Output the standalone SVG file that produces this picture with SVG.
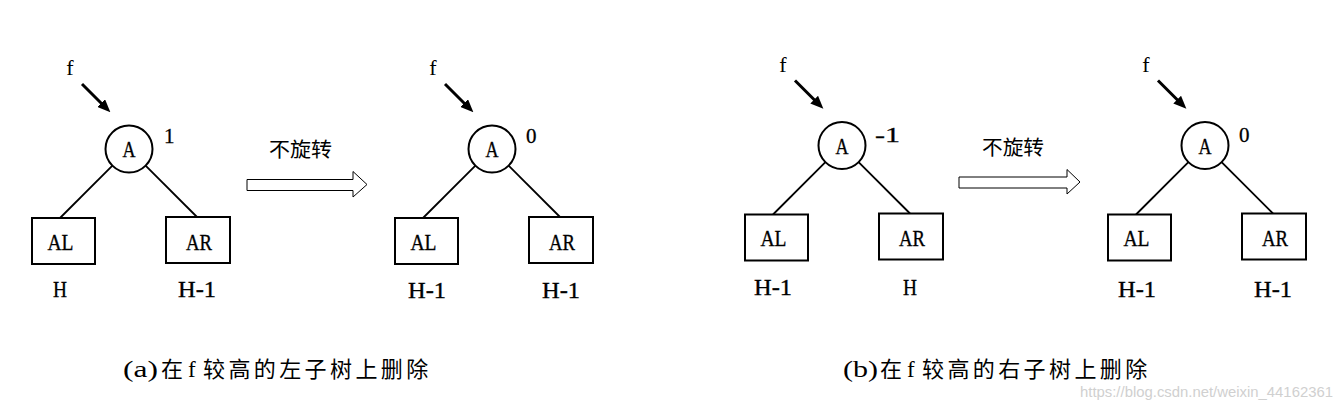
<svg xmlns="http://www.w3.org/2000/svg" width="1342" height="415" viewBox="0 0 1342 415">
<style>
.bg{fill:#ffffff}
.node{fill:#ffffff;stroke:#000000;stroke-width:2}
.edge{stroke:#000000;stroke-width:1.8;fill:none}
.ptr{stroke:#000000;stroke-width:3;fill:none}
.big{fill:#ffffff;stroke:#000000;stroke-width:1}
.t{font-family:"Liberation Serif","Noto Sans CJK SC",serif;font-size:24px;fill:#000000;stroke:#000000;stroke-width:0.35}
.c{text-anchor:middle}
.f{font-family:"Liberation Serif",serif;font-size:22px;fill:#000000}
.bf{font-family:"Liberation Serif",serif;font-size:21px;fill:#000000;stroke:#000000;stroke-width:0.3}
.zh{font-family:"Noto Sans CJK SC",sans-serif;font-size:20px;fill:#000000}
.cap{font-family:"Liberation Serif",serif;font-size:23px;fill:#000000}
.capzh{font-family:"Noto Sans CJK SC",sans-serif;font-size:22px;fill:#000000}
.wm{font-family:"Liberation Sans",Arial,sans-serif;font-size:15px;fill:#d0d0d0}
</style>
<defs>
<marker id="ah" markerUnits="userSpaceOnUse" markerWidth="13" markerHeight="11" refX="4" refY="5.5" orient="auto">
<path d="M0,0 L13,5.5 L0,11 z" fill="#000000"/>
</marker>
</defs>
<rect class="bg" x="0" y="0" width="1342" height="415"/>

<g id="connectors">
<g transform="translate(0,0)">
<line class="ptr" x1="82" y1="84" x2="104" y2="106" marker-end="url(#ah)"/>
<line class="edge" x1="112.4" y1="165.6" x2="60" y2="218"/>
<line class="edge" x1="145.6" y1="165.6" x2="197" y2="217"/>
</g>
<g transform="translate(363,0)">
<line class="ptr" x1="82" y1="84" x2="104" y2="106" marker-end="url(#ah)"/>
<line class="edge" x1="112.4" y1="165.6" x2="60" y2="218"/>
<line class="edge" x1="145.6" y1="165.6" x2="197" y2="217"/>
</g>
<g transform="translate(713,-3.5)">
<line class="ptr" x1="82" y1="84" x2="104" y2="106" marker-end="url(#ah)"/>
<line class="edge" x1="112.4" y1="165.6" x2="60" y2="218"/>
<line class="edge" x1="145.6" y1="165.6" x2="197" y2="217"/>
</g>
<g transform="translate(1076,-3.5)">
<line class="ptr" x1="82" y1="84" x2="104" y2="106" marker-end="url(#ah)"/>
<line class="edge" x1="112.4" y1="165.6" x2="60" y2="218"/>
<line class="edge" x1="145.6" y1="165.6" x2="197" y2="217"/>
</g>
<polygon id="arrow-a" class="big" points="247,179.5 353,179.5 353,171.5 367,184.5 353,197 353,190.5 247,190.5"/>
<polygon id="arrow-b" class="big" points="959,177 1067,177 1067,169.5 1080,182 1067,194 1067,188 959,188"/>
</g>

<g id="tree-a1">
<g id="a1-A"><circle class="node" cx="129" cy="149" r="23.5"/><text class="t c" x="129" y="157" textLength="13" lengthAdjust="spacingAndGlyphs">A</text></g>
<g id="a1-AL"><rect class="node" x="32" y="218" width="63" height="46"/><text class="t c" x="60.5" y="249.5" textLength="26" lengthAdjust="spacingAndGlyphs">AL</text></g>
<g id="a1-AR"><rect class="node" x="166" y="217" width="64" height="46"/><text class="t c" x="199" y="249.5" textLength="26" lengthAdjust="spacingAndGlyphs">AR</text></g>
<text class="f c" x="70" y="75">f</text>
<text class="bf" x="164" y="143">1</text>
<text class="t c" x="60" y="297" textLength="14" lengthAdjust="spacingAndGlyphs">H</text>
<text class="t c" x="197" y="297" textLength="38" lengthAdjust="spacingAndGlyphs">H-1</text>
</g>

<g id="tree-a2" transform="translate(363,0)">
<g id="a2-A"><circle class="node" cx="129" cy="149" r="23.5"/><text class="t c" x="129" y="157" textLength="13" lengthAdjust="spacingAndGlyphs">A</text></g>
<g id="a2-AL"><rect class="node" x="32" y="218" width="63" height="46"/><text class="t c" x="60.5" y="249.5" textLength="26" lengthAdjust="spacingAndGlyphs">AL</text></g>
<g id="a2-AR"><rect class="node" x="166" y="217" width="64" height="46"/><text class="t c" x="199" y="249.5" textLength="26" lengthAdjust="spacingAndGlyphs">AR</text></g>
<text class="f c" x="70" y="75">f</text>
<text class="bf" x="163" y="143">0</text>
<text class="t c" x="64" y="298" textLength="38" lengthAdjust="spacingAndGlyphs">H-1</text>
<text class="t c" x="198" y="298" textLength="38" lengthAdjust="spacingAndGlyphs">H-1</text>
</g>

<g id="tree-b1" transform="translate(713,-3.5)">
<g id="b1-A"><circle class="node" cx="129" cy="149" r="23.5"/><text class="t c" x="129" y="157" textLength="13" lengthAdjust="spacingAndGlyphs">A</text></g>
<g id="b1-AL"><rect class="node" x="32" y="218" width="63" height="46"/><text class="t c" x="60.5" y="249.5" textLength="26" lengthAdjust="spacingAndGlyphs">AL</text></g>
<g id="b1-AR"><rect class="node" x="166" y="217" width="64" height="46"/><text class="t c" x="199" y="249.5" textLength="26" lengthAdjust="spacingAndGlyphs">AR</text></g>
<text class="f c" x="70" y="75">f</text>
<text class="bf" x="162" y="145" textLength="25" lengthAdjust="spacingAndGlyphs">-1</text>
<text class="t c" x="60" y="298.5" textLength="38" lengthAdjust="spacingAndGlyphs">H-1</text>
<text class="t c" x="197" y="298.5" textLength="14" lengthAdjust="spacingAndGlyphs">H</text>
</g>

<g id="tree-b2" transform="translate(1076,-3.5)">
<g id="b2-A"><circle class="node" cx="129" cy="149" r="23.5"/><text class="t c" x="129" y="157" textLength="13" lengthAdjust="spacingAndGlyphs">A</text></g>
<g id="b2-AL"><rect class="node" x="32" y="218" width="63" height="46"/><text class="t c" x="60.5" y="249.5" textLength="26" lengthAdjust="spacingAndGlyphs">AL</text></g>
<g id="b2-AR"><rect class="node" x="166" y="217" width="64" height="46"/><text class="t c" x="199" y="249.5" textLength="26" lengthAdjust="spacingAndGlyphs">AR</text></g>
<text class="f c" x="70" y="75">f</text>
<text class="bf" x="163" y="145">0</text>
<text class="t c" x="61" y="300" textLength="38" lengthAdjust="spacingAndGlyphs">H-1</text>
<text class="t c" x="197" y="300" textLength="38" lengthAdjust="spacingAndGlyphs">H-1</text>
</g>

<text class="zh" x="269" y="157" textLength="63" lengthAdjust="spacingAndGlyphs">不旋转</text>
<text class="zh" x="982" y="155" textLength="62" lengthAdjust="spacingAndGlyphs">不旋转</text>

<g id="caption-a">
<text class="cap" x="123" y="377" textLength="35" lengthAdjust="spacingAndGlyphs">(a)</text>
<text class="capzh" x="161" y="377">在</text>
<text class="cap" x="188" y="377">f</text>
<text class="capzh" x="203" y="377" style="letter-spacing:3.4px">较高的左子树上删除</text>
</g>
<g id="caption-b">
<text class="cap" x="843" y="377" textLength="35" lengthAdjust="spacingAndGlyphs">(b)</text>
<text class="capzh" x="880" y="377">在</text>
<text class="cap" x="907" y="377">f</text>
<text class="capzh" x="922" y="377" style="letter-spacing:3.4px">较高的右子树上删除</text>
</g>

<text class="wm" x="1080" y="397" textLength="253" lengthAdjust="spacingAndGlyphs">https://blog.csdn.net/weixin_44162361</text>
</svg>
